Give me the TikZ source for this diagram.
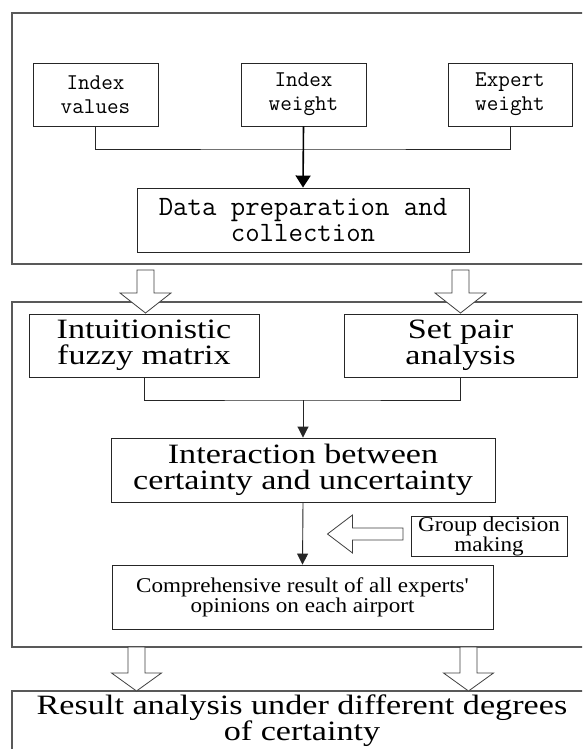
\documentclass[tikz,border=0pt]{standalone}
\usepackage{fontspec}
\usetikzlibrary{arrows.meta}
\newfontfamily\tnrbig[FakeStretch=1.22,Ligatures=ResetAll]{Liberation Serif}
\newfontfamily\tnrsmall[FakeStretch=1.1,Ligatures=ResetAll]{Liberation Serif}
\begin{document}
\begin{tikzpicture}[x=1pt,y=-1pt,
  outerbox/.style={draw=black!65,line width=1.2pt},
  ibox/.style={draw=black!85,line width=0.9pt,inner sep=0pt,align=center,fill=white},
  monosmall/.style={font=\ttfamily\fontsize{22.5}{24}\selectfont},
  monobig/.style={font=\ttfamily\fontsize{28}{25.5}\selectfont},
  serifbig/.style={font=\tnrbig\fontsize{28}{26}\selectfont},
  serifsmall/.style={font=\tnrsmall\fontsize{21}{18.5}\selectfont},
  conn/.style={draw=black!85,line width=0.9pt},
  thickarr/.style={draw=black,line width=1.6pt,-{Triangle[width=15pt,length=12pt]}},
  arr/.style={draw=black!85,line width=0.9pt,-{Triangle[width=11pt,length=11pt]}},
  hollow/.style={draw=black!75,line width=0.8pt,fill=white,line join=miter}
]
\useasboundingbox (0,0) rectangle (582,749);
\fill[white] (0,0) rectangle (582,749);
\begin{scope}
\clip (0,0) rectangle (582,749);
% outer frames
\draw[outerbox] (12,13) rectangle (620,264);
\draw[outerbox] (12,302) rectangle (620,647);
\draw[outerbox] (12,691) rectangle (620,780);

% top section
\node[ibox,monosmall,minimum width=125pt,minimum height=63pt] (iv) at (95.5,94.5) {Index\\values};
\node[ibox,monosmall,minimum width=125pt,minimum height=63pt] (iw) at (303.5,94.5) {Index\\weight};
\node[ibox,monosmall,minimum width=124pt,minimum height=63pt] (ew) at (510,94.5) {Expert\\weight};
\node[ibox,monobig,minimum width=332pt,minimum height=64pt] (dp) at (303,220) {Data preparation and\\collection};
\coordinate (jt) at (303.5,149);
\draw[conn] (iv.south) |- (jt) -| (ew.south);
\draw[thickarr] (iw.south) -- (dp.north);

% hollow arrows top -> middle
\draw[hollow] (145.5,270) ++(-8.5,0) -- ++(17,0) -- ++(0,23) -- ++(17,0) -- ++(-25.5,20) -- ++(-25.5,-20) -- ++(17,0) -- cycle;
\draw[hollow] (460.5,270) ++(-8.5,0) -- ++(17,0) -- ++(0,23) -- ++(17,0) -- ++(-25.5,20) -- ++(-25.5,-20) -- ++(17,0) -- cycle;

% middle section
\node[ibox,serifbig,minimum width=230pt,minimum height=63pt] (im) at (144,345.5) {Intuitionistic\\fuzzy matrix};
\node[ibox,serifbig,minimum width=233pt,minimum height=63pt] (sp) at (460.5,345.5) {Set pair\\analysis};
\node[ibox,serifbig,minimum width=384pt,minimum height=64pt] (ia) at (303,470) {Interaction between\\certainty and uncertainty};
\node[ibox,serifsmall,minimum width=381pt,minimum height=64pt] (cr) at (302.5,597) {Comprehensive result of all experts'\\opinions on each airport};
\node[ibox,serifsmall,minimum width=156pt,minimum height=39pt] (gd) at (489,536.5) {Group decision\\making};
\coordinate (jm) at (303,400);
\draw[conn] (im.south) |- (jm) -| (sp.south);
\draw[arr] (jm) -- (ia.north);
\draw[arr] (ia.south) -- (cr.north);
\draw[hollow] (403,528) -- (352.5,528) -- (352.5,515) -- (327.5,534) -- (352.5,553) -- (352.5,540) -- (403,540) -- cycle;

% hollow arrows middle -> bottom
\draw[hollow] (136.5,647) ++(-8.5,0) -- ++(17,0) -- ++(0,26) -- ++(16.5,0) -- ++(-25,18) -- ++(-25,-18) -- ++(16.5,0) -- cycle;
\draw[hollow] (468.5,647) ++(-8.5,0) -- ++(17,0) -- ++(0,26) -- ++(16.5,0) -- ++(-25,18) -- ++(-25,-18) -- ++(16.5,0) -- cycle;

% bottom
\node[serifbig,inner sep=0pt,align=center] (ra) at (302,721) {Result analysis under different degrees\\of certainty};
\end{scope}
\end{tikzpicture}
\end{document}
